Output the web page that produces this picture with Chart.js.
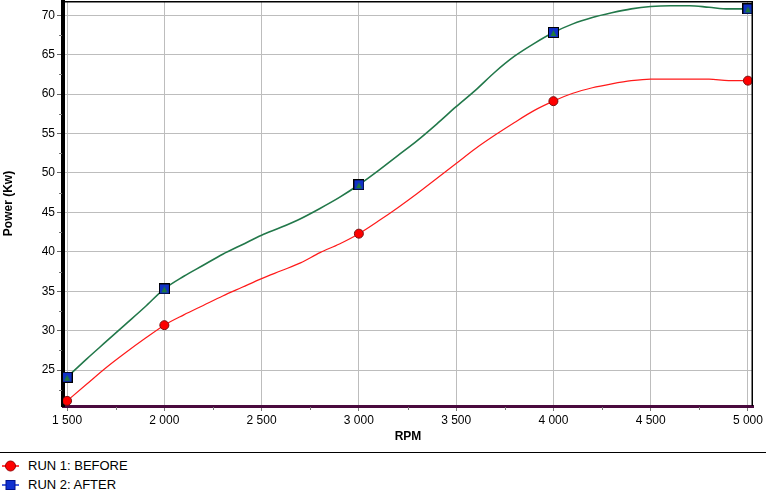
<!DOCTYPE html>
<html>
<head>
<meta charset="utf-8">
<script src="https://cdn.jsdelivr.net/npm/chart.js@4.4.1/dist/chart.umd.min.js"></script>
<style>
  html, body { margin: 0; padding: 0; background: #fff; }
  body { width: 766px; height: 490px; overflow: hidden; font-family: "Liberation Sans", Arial, sans-serif; }
  #wrap { position: relative; width: 766px; height: 452px; }
  #legend { border-top: 1px solid #000; height: 37px; position: relative; }
  .item { position: absolute; left: 0; height: 18px; font-size: 13px; color: #000; }
  .item svg { position: absolute; left: 2px; top: 1px; }
  .item span { position: absolute; left: 28px; top: 1px; white-space: nowrap; }
</style>
</head>
<body>
<div id="wrap"><canvas id="chart" width="766" height="452"></canvas></div>
<div id="legend">
  <div class="item" style="top:4px">
    <svg width="18" height="16"><line x1="0" y1="8" x2="17" y2="8" stroke="#ff0000" stroke-width="1.5"/><circle cx="8.5" cy="8" r="5" fill="#ff0000" stroke="#900" stroke-width="1"/></svg>
    <span>RUN 1: BEFORE</span>
  </div>
  <div class="item" style="top:23px">
    <svg width="18" height="16"><line x1="0" y1="8" x2="17" y2="8" stroke="#1030d0" stroke-width="1.5"/><rect x="4" y="3.5" width="9" height="9" fill="#1030d0" stroke="#00108a" stroke-width="1"/></svg>
    <span>RUN 2: AFTER</span>
  </div>
</div>
<script>
const rpm = [1500, 1600, 1700, 1800, 1900, 2000, 2100, 2200, 2300, 2400, 2500, 2600,
  2700, 2800, 2900, 3000, 3100, 3200, 3300, 3400, 3500, 3600, 3700, 3800,
  3900, 4000, 4100, 4200, 4300, 4400, 4500, 4600, 4700, 4800, 4900, 5000];

const run1Before = [21.1, 23.2, 25.3, 27.2, 29.0, 30.7, 32.0, 33.2, 34.4, 35.5, 36.6, 37.6,
  38.6, 39.9, 41.0, 42.3, 43.9, 45.6, 47.4, 49.3, 51.2, 53.1, 54.8, 56.4,
  57.9, 59.1, 60.1, 60.8, 61.3, 61.7, 61.9, 61.9, 61.9, 61.9, 61.7, 61.7];

const run2After = [24.1, 26.4, 28.6, 30.8, 33.0, 35.3, 36.9, 38.3, 39.7, 40.9, 42.1, 43.1,
  44.2, 45.5, 46.9, 48.5, 50.3, 52.2, 54.1, 56.2, 58.4, 60.5, 62.8, 64.8,
  66.4, 67.8, 68.9, 69.7, 70.3, 70.8, 71.1, 71.2, 71.2, 71.0, 70.8, 70.8];

// rpm values where the markers sit
const markerRpm = [1500, 2000, 3000, 4000, 5000];

const xTicks = [1500, 2000, 2500, 3000, 3500, 4000, 4500, 5000];
const yTicks = [25, 30, 35, 40, 45, 50, 55, 60, 65, 70];

const toPoints = vals => rpm.map((r, i) => ({ x: r, y: vals[i] }));
const markerSize = size => ctx => markerRpm.includes(rpm[ctx.dataIndex]) ? size : 0;

function fmtRpm(v) {
  return Math.floor(v / 1000) + " " + String(v % 1000).padStart(3, "0");
}

// blue square with green triangle, like the source software draws it
const squareMarker = document.createElement("canvas");
squareMarker.width = 11;
squareMarker.height = 11;
(function () {
  const c = squareMarker.getContext("2d");
  c.fillStyle = "#1030c8";
  c.fillRect(0.5, 0.5, 10, 10);
  c.strokeStyle = "#000";
  c.lineWidth = 1;
  c.strokeRect(0.5, 0.5, 10, 10);
  c.fillStyle = "#1f7a3a";
  c.beginPath();
  c.moveTo(5.5, 3);
  c.lineTo(8.5, 9);
  c.lineTo(2.5, 9);
  c.closePath();
  c.fill();
})();

const framePlugin = {
  id: "frame",
  afterDraw(chart) {
    const { ctx, chartArea: a, scales } = chart;
    const x = scales.x, y = scales.y;
    ctx.save();
    ctx.strokeStyle = "#000";
    ctx.lineWidth = 1.5;
    ctx.beginPath();
    ctx.moveTo(a.left, a.top + 0.75);
    ctx.lineTo(a.right - 0.75, a.top + 0.75);
    ctx.lineTo(a.right - 0.75, a.bottom);
    ctx.stroke();

    // minor ticks halfway between the major ones
    ctx.strokeStyle = "#777";
    ctx.lineWidth = 1;
    ctx.beginPath();
    for (let i = 0; i < yTicks.length; i++) {
      const v = yTicks[i] - 2.5;
      const py = Math.round(y.getPixelForValue(v)) + 0.5;
      if (py < a.bottom - 2) { ctx.moveTo(a.left - 4, py); ctx.lineTo(a.left - 1, py); }
    }
    for (let i = 0; i < xTicks.length - 1; i++) {
      const v = (xTicks[i] + xTicks[i + 1]) / 2;
      const px = Math.round(x.getPixelForValue(v)) + 0.5;
      ctx.moveTo(px, a.bottom + 1); ctx.lineTo(px, a.bottom + 4);
    }
    ctx.stroke();
    ctx.restore();
  }
};

Chart.defaults.font.family = '"Liberation Sans", Arial, sans-serif';
Chart.defaults.font.size = 12;
Chart.defaults.color = "#000";

new Chart(document.getElementById("chart"), {
  type: "line",
  data: {
    datasets: [
      {
        label: "RUN 1: BEFORE",
        data: toPoints(run1Before),
        borderColor: "#ff1a1a",
        borderWidth: 1.2,
        cubicInterpolationMode: "monotone",
        pointStyle: "circle",
        pointRadius: markerSize(4.5),
        pointHoverRadius: 0,
        pointBackgroundColor: "#ff0000",
        pointBorderColor: "#7a1010",
        pointBorderWidth: 1
      },
      {
        label: "RUN 2: AFTER",
        data: toPoints(run2After),
        borderColor: "#22784a",
        borderWidth: 1.6,
        cubicInterpolationMode: "monotone",
        pointStyle: squareMarker,
        pointRadius: markerSize(5),
        pointHoverRadius: 0
      }
    ]
  },
  options: {
    responsive: false,
    animation: false,
    events: [],
    layout: { autoPadding: false, padding: { top: 1, right: 13, left: 0, bottom: 0 } },
    plugins: { legend: { display: false }, tooltip: { enabled: false } },
    scales: {
      x: {
        type: "linear",
        min: 1479,
        max: 5026,
        afterBuildTicks: s => { s.ticks = xTicks.map(v => ({ value: v })); },
        afterFit: s => { s.height = 46; },
        ticks: { padding: 2, callback: v => fmtRpm(v), maxRotation: 0, autoSkip: false },
        grid: { color: "#bdbdbd", lineWidth: 1, tickLength: 5, tickColor: "#777" },
        border: { display: true, color: "#4a0a3e", width: 3 },
        title: { display: true, text: "RPM", font: { weight: "bold", size: 12 }, padding: { top: 0, bottom: 8 } }
      },
      y: {
        min: 20.45,
        max: 71.8,
        afterBuildTicks: s => { s.ticks = yTicks.map(v => ({ value: v })); },
        afterFit: s => { s.width = 63; s.paddingTop = 0; s.paddingBottom = 0; },
        ticks: { padding: 2, autoSkip: false },
        grid: { color: "#bdbdbd", lineWidth: 1, tickLength: 6, tickColor: "#666" },
        border: { display: true, color: "#000", width: 4 },
        title: { display: true, text: "Power (Kw)", font: { weight: "bold", size: 12 }, padding: { top: 1, bottom: 0 } }
      }
    }
  },
  plugins: [framePlugin]
});
</script>
</body>
</html>
